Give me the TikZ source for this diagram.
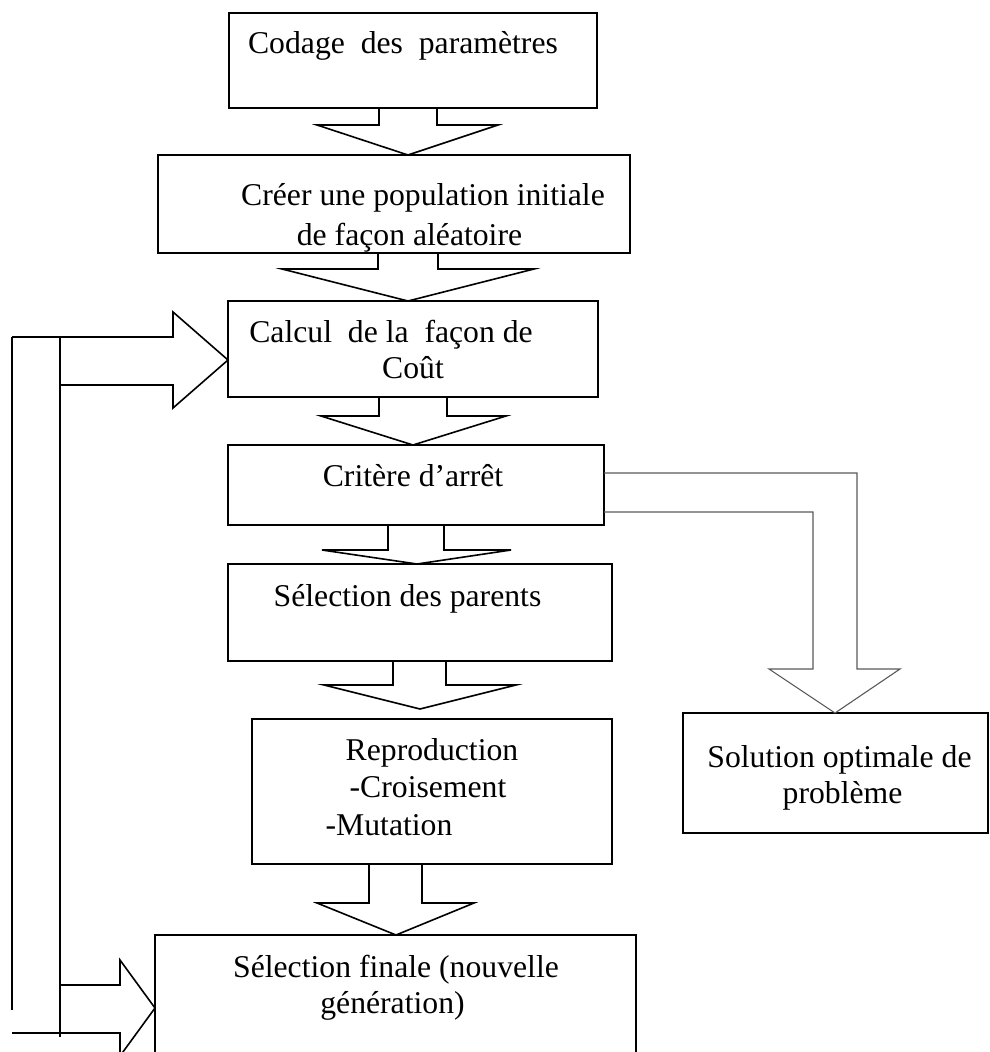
\documentclass[tikz,border=0pt]{standalone}
\usepackage{fontspec}
\setmainfont{Liberation Serif}
\begin{document}
\begin{tikzpicture}[x=1pt,y=-1pt,
  box/.style={draw, line width=1.8pt, rectangle, inner sep=0pt, outer sep=0pt},
  lbl/.style={anchor=base, inner sep=0pt, font=\fontsize{31.7pt}{36.5pt}\selectfont},
  blockarrow/.style={draw, line width=1.6pt, line join=miter},
  branch/.style={draw=black!65, line width=1.1pt},
  loopline/.style={draw, line width=1.7pt}]
\useasboundingbox (0,0) rectangle (989,1052);
\clip (0,0) rectangle (989,1052);

% process boxes
\node[box, minimum width=368pt, minimum height=95pt]  (b1) at (413,60.5)  {};
\node[box, minimum width=472pt, minimum height=98pt]  (b2) at (394,204)   {};
\node[box, minimum width=370pt, minimum height=96pt]  (b3) at (413,349)   {};
\node[box, minimum width=376pt, minimum height=80pt]  (b4) at (416,485)   {};
\node[box, minimum width=384pt, minimum height=97pt]  (b5) at (420,612.5) {};
\node[box, minimum width=360pt, minimum height=145pt] (b6) at (432,791.5) {};
\node[box, minimum width=481pt, minimum height=145pt] (b7) at (395.5,1007.5) {};
\node[box, minimum width=305pt, minimum height=120pt] (b8) at (835.5,773) {};

% box texts
\node[lbl] (t1)  at (403,53)    {Codage\ \ des\ \ paramètres};
\node[lbl] (t2a) at (423,205)   {Créer une population initiale};
\node[lbl] (t2b) at (409.5,245) {de façon aléatoire};
\node[lbl] (t3a) at (391,342)   {Calcul\ \ de la\ \ façon de};
\node[lbl] (t3b) at (413,378)   {Coût};
\node[lbl] (t4)  at (413,486)   {Critère d’arrêt};
\node[lbl] (t5)  at (407.5,606) {Sélection des parents};
\node[lbl] (t6a) at (432,760)   {Reproduction};
\node[lbl] (t6b) at (428,797)   {-Croisement};
\node[lbl] (t6c) at (389,835)   {-Mutation};
\node[lbl] (t7a) at (396,977)   {Sélection finale (nouvelle};
\node[lbl] (t7b) at (392.5,1013){génération)};
\node[lbl] (t8a) at (839.5,767) {Solution optimale de};
\node[lbl] (t8b) at (842.5,803) {problème};

% downward block arrows between consecutive boxes
\path[blockarrow] (379,0 |- b1.south) -- (379,125) -- (317,125) -- (408,0 |- b2.north)
  -- (498,125) -- (437,125) -- (437,0 |- b1.south);
\path[blockarrow] (378,0 |- b2.south) -- (378,269) -- (282,269) -- (408,0 |- b3.north)
  -- (534,269) -- (438,269) -- (438,0 |- b2.south);
\path[blockarrow] (379,0 |- b3.south) -- (379,416) -- (321,416) -- (413,0 |- b4.north)
  -- (506,416) -- (447,416) -- (447,0 |- b3.south);
\path[blockarrow] (388,0 |- b4.south) -- (388,550) -- (322,550) -- (417,0 |- b5.north)
  -- (511,550) -- (444,550) -- (444,0 |- b4.south);
\coordinate (tip5) at (420,709);
\path[blockarrow] (393,0 |- b5.south) -- (393,685) -- (324,685) -- (tip5)
  -- (516,685) -- (446,685) -- (446,0 |- b5.south);
\path[blockarrow] (369,0 |- b6.south) -- (369,903) -- (317,903) -- (396,0 |- b7.north)
  -- (474,903) -- (422,903) -- (422,0 |- b6.south);

% exit branch towards the solution box
\path[branch] (b4.east |- 0,473) -- (857,473) -- (857,669) -- (900,669)
  -- (835,0 |- b8.north) -- (769,669) -- (813,669) -- (813,512) -- (b4.east |- 0,512);

% feedback loop on the left
\coordinate (lt) at (12,337);
\coordinate (lb) at (12,1010);
\coordinate (it) at (60,337);
\coordinate (ib) at (60,1037);
\path[loopline] (lt) -- (lb);
\path[loopline] (it) -- (ib);
\path[blockarrow] (lt) -- (173,337) -- (173,312) -- (b3.west |- 0,360)
  -- (173,408) -- (173,385) -- (60,385);
\path[blockarrow] (60,985) -- (120,985) -- (120,960) -- (b7.west |- 0,1008)
  -- (120,1056) -- (120,1033) -- (12,1033);
\end{tikzpicture}
\end{document}
